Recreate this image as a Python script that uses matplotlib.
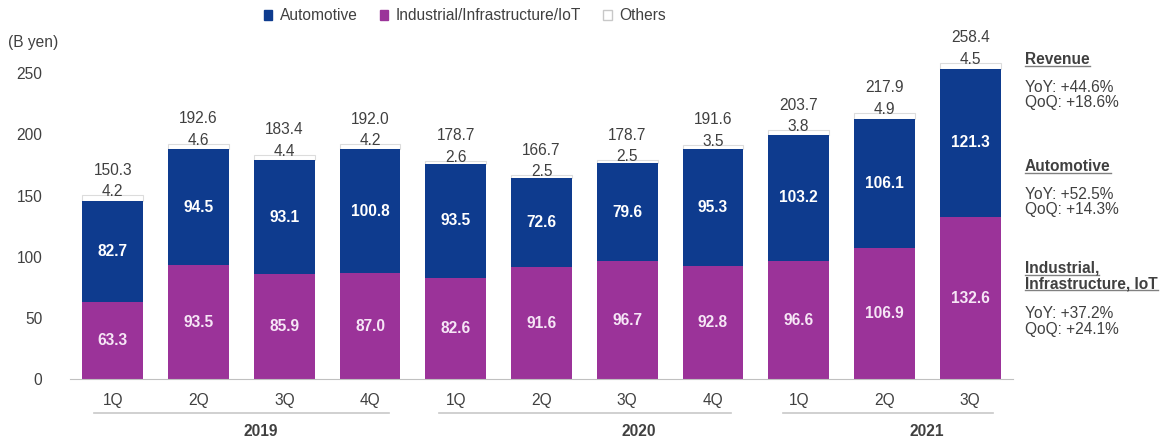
import matplotlib
matplotlib.use('Agg')
import matplotlib.pyplot as plt
from matplotlib.patches import Patch
from matplotlib.lines import Line2D

plt.rcParams['font.family'] = ['Liberation Sans', 'DejaVu Sans']

quarters = ['1Q', '2Q', '3Q', '4Q', '1Q', '2Q', '3Q', '4Q', '1Q', '2Q', '3Q']
years = ['2019', '2020', '2021']
industrial = [63.3, 93.5, 85.9, 87.0, 82.6, 91.6, 96.7, 92.8, 96.6, 106.9, 132.6]
automotive = [82.7, 94.5, 93.1, 100.8, 93.5, 72.6, 79.6, 95.3, 103.2, 106.1, 121.3]
others = [4.2, 4.6, 4.4, 4.2, 2.6, 2.5, 2.5, 3.5, 3.8, 4.9, 4.5]
totals = [150.3, 192.6, 183.4, 192.0, 178.7, 166.7, 178.7, 191.6, 203.7, 217.9, 258.4]

# (heading, yoy, qoq)
notes = [('Revenue', '+44.6%', '+18.6%'),
         ('Automotive', '+52.5%', '+14.3%'),
         ('Industrial,\nInfrastructure, IoT', '+37.2%', '+24.1%')]

NAVY = '#0E3B8E'
PURPLE = '#9B3399'
GRAY = '#404040'
FS = 11.2

W, H = 1170, 440
fig = plt.figure(figsize=(W / 100, H / 100), dpi=100)
ax = fig.add_axes([70 / W, 1 - 379.3 / H, (1013 - 70) / W, (379.3 - 48.8) / H])

x = list(range(len(quarters)))
bw = 0.71
bot2 = [a + b for a, b in zip(industrial, automotive)]
ax.bar(x, industrial, width=bw, color=PURPLE, zorder=2)
ax.bar(x, automotive, width=bw, bottom=industrial, color=NAVY, zorder=2)
ax.bar(x, others, width=bw, bottom=bot2, color='white', edgecolor='#dcdcdc',
       linewidth=0.8, zorder=1)

for i in x:
    ax.text(i, industrial[i] / 2, f'{industrial[i]:.1f}', ha='center', va='center',
            color='#f6e6f6', fontsize=FS, fontweight='bold')
    ax.text(i, industrial[i] + automotive[i] / 2, f'{automotive[i]:.1f}', ha='center',
            va='center', color='white', fontsize=FS, fontweight='bold')
    top = bot2[i] + others[i]
    ax.annotate(f'{others[i]:.1f}', (i, top), xytext=(0, 2.5), textcoords='offset points',
                ha='center', va='center', color=GRAY, fontsize=FS)
    ax.annotate(f'{totals[i]:.1f}', (i, top), xytext=(0, 18), textcoords='offset points',
                ha='center', va='center', color=GRAY, fontsize=FS, annotation_clip=False)

ax.set_xlim(-0.5, 10.5)
ax.set_ylim(0, 270)
ax.set_yticks([0, 50, 100, 150, 200, 250])
ax.tick_params(axis='y', length=0, pad=20, labelsize=FS, labelcolor=GRAY)
ax.set_xticks(x)
ax.set_xticklabels(quarters)
ax.tick_params(axis='x', length=0, pad=10, labelsize=FS, labelcolor=GRAY)
for s in ['top', 'right', 'left']:
    ax.spines[s].set_visible(False)
ax.spines['bottom'].set_color('#c0c0c0')

# year grouping lines and labels
tr = ax.get_xaxis_transform()
spans = [(-0.22, 3.22), (3.80, 7.21), (7.82, 10.27)]
ylab_x = [1.72, 6.14, 9.49]
ly = -(412.7 - 379.3) / (379.3 - 48.8)
ty = -(431.5 - 379.3) / (379.3 - 48.8)
for (a, b), yx, yr in zip(spans, ylab_x, years):
    ax.add_line(Line2D([a, b], [ly, ly], transform=tr, color='#c8c8c8', lw=1.2, clip_on=False))
    ax.text(yx, ty, yr, transform=tr, ha='center', va='center', fontsize=FS,
            fontweight='bold', color=GRAY)

fig.text(8 / W, 1 - 42 / H, '(B yen)', ha='left', va='center', fontsize=FS, color=GRAY)

handles = [Patch(facecolor=NAVY, edgecolor=NAVY),
           Patch(facecolor=PURPLE, edgecolor=PURPLE),
           Patch(facecolor='white', edgecolor='#c8c8c8')]
fig.legend(handles, ['Automotive', 'Industrial/Infrastructure/IoT', 'Others'],
           loc='center', bbox_to_anchor=(465 / W, 1 - 16 / H), ncol=3, frameon=False,
           fontsize=FS, handlelength=0.55, handleheight=0.55, handletextpad=0.5,
           columnspacing=1.4, labelcolor=GRAY)

# right-hand notes
head_y = [60, 166.7, 276]
yoy_y = [95, 202, 321.5]
tx = 1025 / W
heads = []
for (head, yoy, qoq), hy, yy in zip(notes, head_y, yoy_y):
    t = fig.text(tx, 1 - hy / H, head, ha='left', va='center', fontsize=FS,
                 fontweight='bold', color=GRAY, linespacing=1.05)
    heads.append(t)
    fig.text(tx, 1 - yy / H, f'YoY: {yoy}\nQoQ: {qoq}', ha='left', va='center',
             fontsize=FS, color=GRAY, linespacing=1.05)

fig.canvas.draw()
r = fig.canvas.get_renderer()
for t in heads:
    lines = t.get_text().split('\n')
    bb = t.get_window_extent(r)
    n = len(lines)
    lh = bb.height / n
    for k, ln in enumerate(lines):
        tmp = fig.text(0, 0, ln, fontsize=FS, fontweight='bold')
        w = tmp.get_window_extent(r).width
        tmp.remove()
        yb = bb.y1 - lh * (k + 1) + 1
        fig.add_artist(Line2D([bb.x0 / W, (bb.x0 + w) / W], [yb / H, yb / H],
                              transform=fig.transFigure, color='#808080', lw=1))

fig.savefig('out.png', dpi=100)
